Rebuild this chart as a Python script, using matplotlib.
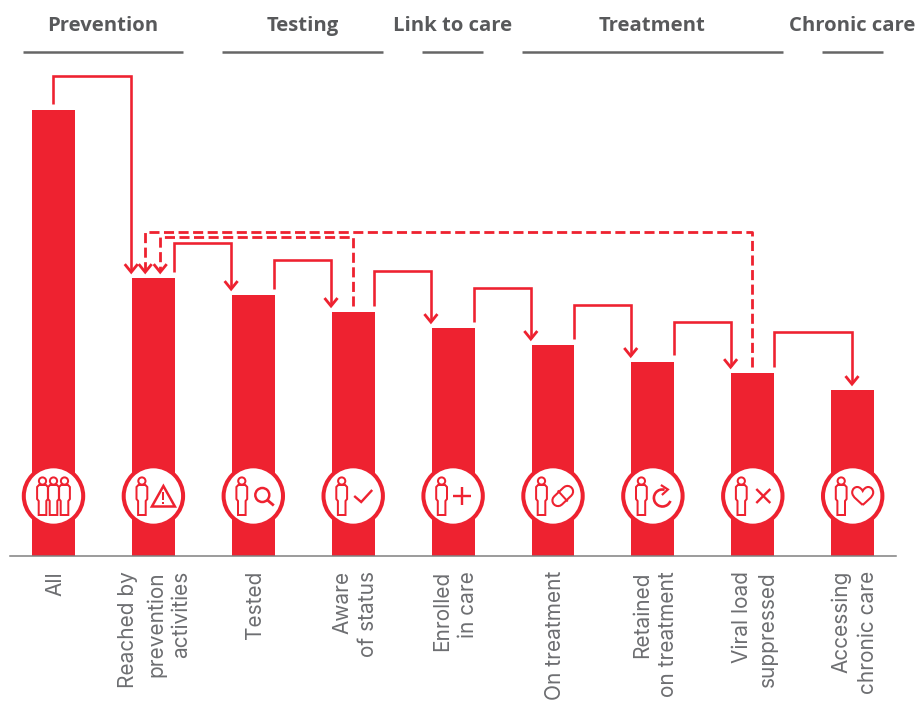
"""Care cascade bar chart with connector arrows and icons."""
import matplotlib.pyplot as plt
import numpy as np
from matplotlib.patches import Arc, Circle, PathPatch, Polygon
from matplotlib.path import Path

RED = "#ee2230"
GREY = "#58595b"
LABEL_GREY = "#6d6e71"

stages = [
    "All",
    "Reached by prevention activities",
    "Tested",
    "Aware of status",
    "Enrolled in care",
    "On treatment",
    "Retained on treatment",
    "Viral load suppressed",
    "Accessing chronic care",
]
values = [100, 62.3, 58.5, 54.7, 51.1, 47.3, 43.5, 41.0, 37.2]

# one rotated label per line: stage index, side shift in px, text
label_lines = [
    (0, 0, "All"),
    (1, -27, "Reached by"),
    (1, 1, "prevention"),
    (1, 26, "activities"),
    (2, 0, "Tested"),
    (3, -13, "Aware"),
    (3, 13, "of status"),
    (4, -13, "Enrolled"),
    (4, 13, "in care"),
    (5, 0, "On treatment"),
    (6, -13, "Retained"),
    (6, 13, "on treatment"),
    (7, -13, "Viral load"),
    (7, 13, "suppressed"),
    (8, -13, "Accessing"),
    (8, 13, "chronic care"),
]

groups = ["Prevention", "Testing", "Link to care", "Treatment", "Chronic care"]
group_first = [0, 2, 4, 5, 8]
group_last = [1, 3, 4, 7, 8]

# solid connectors: from stage, to stage, top level in value units
solid_from = [0, 1, 2, 3, 4, 5, 6, 7]
solid_to = [1, 2, 3, 4, 5, 6, 7, 8]
solid_level = [107.6, 70.2, 66.4, 63.9, 60.1, 56.3, 52.5, 50.2]

# dashed feedback connectors back to "Reached by prevention activities"
dashed_from = [3, 7]
dashed_to = [1, 1]
dashed_level = [71.5, 72.6]

BAR_WIDTH = 0.43
SPACING = 99.9
X0 = 53.5
BASE_Y = 556
PX_PER_UNIT = 4.46

fig = plt.figure(figsize=(9.19, 7.02), dpi=100, facecolor="w")
ax = fig.add_axes([0, 0, 1, 1])
ax.set_xlim(-X0 / SPACING, (919 - X0) / SPACING)
ax.set_ylim((BASE_Y - 702) / PX_PER_UNIT, BASE_Y / PX_PER_UNIT)
ax.axis("off")
ax.bar(np.arange(len(values)), values, width=BAR_WIDTH, color=RED, linewidth=0)

# overlay in pixel units for the strokes and icons
over = fig.add_axes([0, 0, 1, 1])
over.set_xlim(0, 919)
over.set_ylim(702, 0)
over.axis("off")
over.patch.set_alpha(0)


def px_x(i):
    return X0 + SPACING * i


def px_y(v):
    return BASE_Y - PX_PER_UNIT * v


def stroke(xs, ys, lw=2.6, **kw):
    kw.setdefault("color", RED)
    kw.setdefault("solid_capstyle", "butt")
    kw.setdefault("solid_joinstyle", "miter")
    over.plot(xs, ys, lw=lw * 0.72, **kw)


def connector(x0, y0, level, x1, y1, dashed=False):
    style = {"linestyle": (0, (3.6, 1.6)), "lw": 2.8} if dashed else {}
    x0, x1 = x0 - 0.7, x1 - 0.7
    stroke([x0, x0, x1, x1], [y0, px_y(level), px_y(level), y1 - 1], **style)
    stroke([x1 - 6.5, x1, x1 + 6.5], [y1 - 8, y1, y1 - 8], lw=2.8)


half = SPACING * BAR_WIDTH / 2
for a, b, level in zip(solid_from, solid_to, solid_level):
    x0 = px_x(a) + (half if a else 0)
    x1 = px_x(b) - half if b != 8 else px_x(b)
    connector(x0, px_y(values[a]) - 6.5, level, x1, px_y(values[b]) - 6)

for a, b, level, shift in zip(dashed_from, dashed_to, dashed_level, [7.5, -7.5]):
    connector(px_x(a), px_y(values[a]) - 6.5, level, px_x(b) + shift,
              px_y(values[b]) - 6, dashed=True)

# baseline
over.plot([10, 896], [BASE_Y, BASE_Y], color="#808080", lw=1.1)

# group headers
for name, first, last in zip(groups, group_first, group_last):
    x0, x1 = px_x(first) - 30.5, px_x(last) + 30.5
    over.plot([x0 - 0.5, x1 - 0.5], [52, 52], color="#666666", lw=1.8, solid_capstyle="butt")
    over.text((x0 + x1) / 2 - 0.5, 26, name, ha="center", va="center", color=GREY,
              fontsize=14.6, fontweight="bold", family="Open Sans")

# stage labels
for i, shift, text in label_lines:
    over.text(px_x(i) + shift + 2, 571, text, rotation=90, ha="center", va="top",
              color=LABEL_GREY, fontsize=15, family="Inter", clip_on=False)


def person(px, lw=2.0):
    over.add_patch(Circle((px, 481), 3.6, fc="w", ec=RED, lw=lw * 0.72))
    body = [(-3.5, -11), (3.5, -11), (5.4, -9), (5.4, 3), (3.8, 5), (3.8, 19),
            (-3.8, 19), (-3.8, 5), (-5.4, 3), (-5.4, -9)]
    over.add_patch(Polygon([(px + dx, 496 + dy) for dx, dy in body], closed=True,
                           fc="w", ec=RED, lw=lw * 0.72))


for i in range(len(values)):
    over.add_patch(Circle((px_x(i), 496), 29.7, fc="w", ec=RED, lw=2.9))

cx = [px_x(i) for i in range(len(values))]

# all: three people
for dx in [-11, 11, 0]:
    person(cx[0] + dx)

# reached: warning triangle
person(cx[1] - 11.5)
over.add_patch(Polygon([(cx[1] + 10, 486), (cx[1] + 21.5, 506.5), (cx[1] - 1.5, 506.5)],
                       closed=True, fc="w", ec=RED, lw=1.8, joinstyle="miter"))
stroke([cx[1] + 10, cx[1] + 10], [492, 500], lw=2)
stroke([cx[1] + 10, cx[1] + 10], [501.5, 503.5], lw=2)

# tested: magnifier
person(cx[2] - 11.5)
over.add_patch(Circle((cx[2] + 9, 495), 7, fc="none", ec=RED, lw=1.8))
stroke([cx[2] + 14, cx[2] + 20.5], [500, 505.5], lw=2.8)

# aware: check mark
person(cx[3] - 11.5)
stroke([cx[3] + 1, cx[3] + 8, cx[3] + 19], [496, 502, 490], lw=2.4)

# enrolled: plus
person(cx[4] - 11.5)
stroke([cx[4], cx[4] + 18], [496, 496], lw=2.4)
stroke([cx[4] + 9, cx[4] + 9], [487, 505], lw=2.4)

# on treatment: pill
person(cx[5] - 11.5)
pill_x = [cx[5] + 5, cx[5] + 14.5]
pill_y = [500.5, 491.5]
over.plot(pill_x, pill_y, color=RED, lw=9.6, solid_capstyle="round")
over.plot(pill_x, pill_y, color="w", lw=6.6, solid_capstyle="round")
stroke([cx[5] + 4.7, cx[5] + 14.7], [490.5, 501.5], lw=2)

# retained: circular arrow
person(cx[6] - 11.5)
over.add_patch(Arc((cx[6] + 9.5, 498), 17, 17, theta1=20, theta2=285, ec=RED, lw=1.9))
stroke([cx[6] + 8, cx[6] + 15, cx[6] + 9], [485, 489.5, 495], lw=2.2)

# viral load: cross
person(cx[7] - 11.5)
stroke([cx[7] + 3.5, cx[7] + 17.5], [489, 503], lw=2.4)
stroke([cx[7] + 3.5, cx[7] + 17.5], [503, 489], lw=2.4)

# chronic care: heart
person(cx[8] - 11.5)
hx = cx[8] + 10
heart = Path(
    [(hx, 505), (hx - 4, 501), (hx - 10.5, 497), (hx - 10.5, 492.5),
     (hx - 10.5, 489), (hx - 8, 487), (hx - 5.5, 487),
     (hx - 3, 487), (hx - 1, 489), (hx, 491),
     (hx + 1, 489), (hx + 3, 487), (hx + 5.5, 487),
     (hx + 8, 487), (hx + 10.5, 489), (hx + 10.5, 492.5),
     (hx + 10.5, 497), (hx + 4, 501), (hx, 505)],
    [Path.MOVETO] + [Path.CURVE4] * 18,
)
over.add_patch(PathPatch(heart, fc="w", ec=RED, lw=1.5))

fig.savefig("out.png", dpi=100)
